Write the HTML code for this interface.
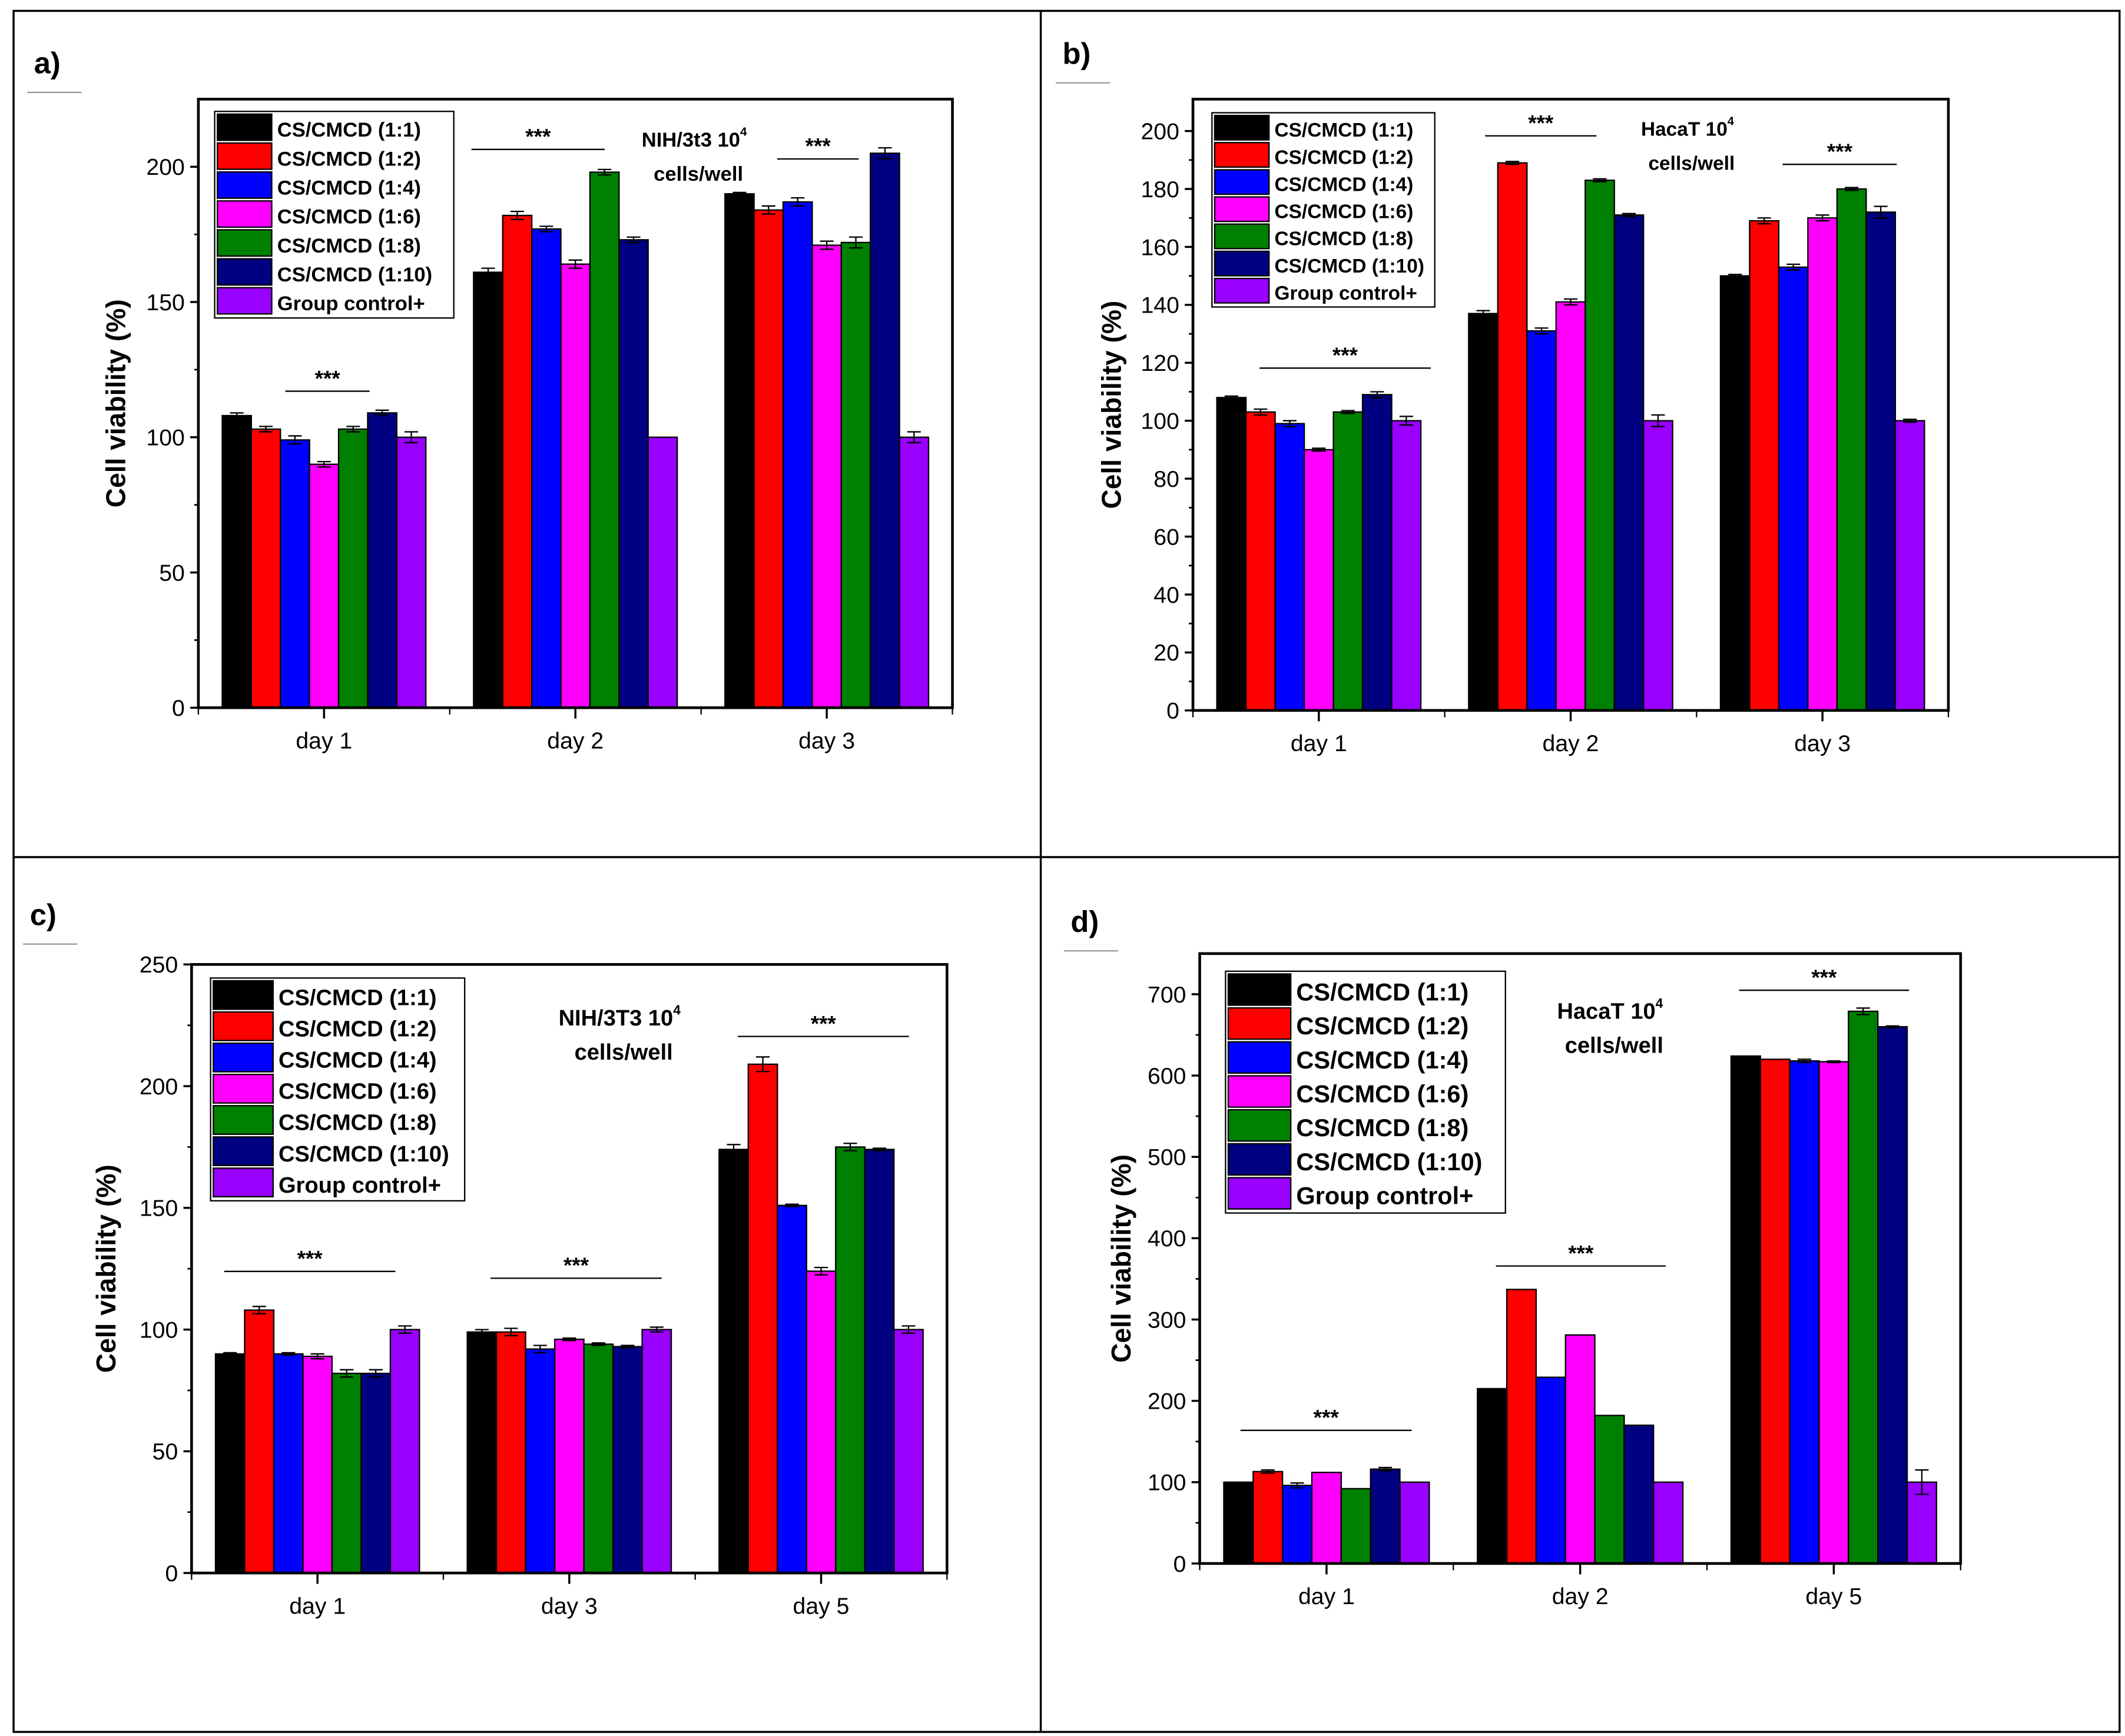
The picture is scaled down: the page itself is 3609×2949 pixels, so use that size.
<!DOCTYPE html>
<html><head><meta charset="utf-8">
<style>html,body{margin:0;padding:0;background:#fff}svg{display:block}</style></head>
<body>
<svg id="fig" xmlns="http://www.w3.org/2000/svg" width="3609" height="2949" viewBox="0 0 1564 1278" preserveAspectRatio="none" font-family="Liberation Sans, sans-serif">
<rect x="0" y="0" width="1564" height="1278" fill="#fff"/>
<rect x="10" y="8" width="1550" height="1267" fill="none" stroke="#000" stroke-width="1.5"/>
<line x1="10" y1="631" x2="1560" y2="631" stroke="#000" stroke-width="1.5"/>
<line x1="766" y1="8" x2="766" y2="1275" stroke="#000" stroke-width="1.5"/>
</svg>
<script>
const seriesNames=["CS/CMCD (1:1)","CS/CMCD (1:2)","CS/CMCD (1:4)","CS/CMCD (1:6)","CS/CMCD (1:8)","CS/CMCD (1:10)","Group control+"];
const colors=["#000000","#ff0000","#0000ff","#ff00ff","#008000","#000080","#9900ff"];
const catsA=["day 1","day 2","day 3"];
const valsA=[[108,103,99,90,103,109,100],[161,182,177,164,198,173,100],[190,184,187,171,172,205,100]];
const errA=[[1,1,1.5,1,1,1,2],[1.5,1.5,1,1.5,1,1,0],[0.5,1.5,1.5,1.5,2,2,2]];
const ticksA=[0,50,100,150,200];
const catsB=["day 1","day 2","day 3"];
const valsB=[[108,103,99,90,103,109,100],[137,189,131,141,183,171,100],[150,169,153,170,180,172,100]];
const errB=[[0.5,1,1,0.5,0.5,1,1.5],[1,0.5,1,1,0.5,0.5,2],[0.5,1,1,1,0.5,2,0.5]];
const ticksB=[0,20,40,60,80,100,120,140,160,180,200];
const catsC=["day 1","day 3","day 5"];
const valsC=[[90,108,90,89,82,82,100],[99,99,92,96,94,93,100],[174,209,151,124,175,174,100]];
const errC=[[0.5,1.5,0.5,1,1.5,1.5,1.5],[1,1.5,1.5,0.5,0.5,0.5,1],[2,3,0.5,1.5,1.5,0.5,1.5]];
const ticksC=[0,50,100,150,200,250];
const catsD=["day 1","day 2","day 5"];
const valsD=[[100,113,96,112,92,116,100],[215,337,229,281,182,170,100],[624,620,618,617,679,660,100]];
const errD=[[0,2,3,0,0,2,0],[0,0,0,0,0,0,0],[0,0,2,1,4,1,15]];
const ticksD=[0,100,200,300,400,500,600,700];

const NS="http://www.w3.org/2000/svg";
const svg=document.getElementById('fig');
function mk(tag,at,parent,txt){const e=document.createElementNS(NS,tag);for(const k in at)e.setAttribute(k,at[k]);if(txt!==undefined)e.textContent=txt;(parent||svg).appendChild(e);return e;}

function panel(p){
  const g=mk('g',{});
  
  
  const yS=v=>p.y0-(v/p.ymax)*(p.y0-p.top);
  const cw=(p.x1-p.x0)/p.cats.length;
  const bw=cw*0.81/7;
  const xC=i=>p.x0+cw*(i+0.5);
  const lab=mk('text',{x:p.lx,y:p.ly,'font-size':22,'font-weight':'bold'},g,p.id+')');
  
  
  mk('line',{x1:p.lx-5,y1:p.ly+14,x2:p.lx+35,y2:p.ly+14,stroke:'#999','stroke-width':1},g);
  p.vals.forEach((grp,ci)=>{
    grp.forEach((v,si)=>{
      const x=xC(ci)-bw*3.5+si*bw;
      const r=mk('rect',{x:x,y:yS(v),width:bw,height:p.y0-yS(v),fill:colors[si],stroke:'#000','stroke-width':1},g);
      
      
      const e=p.err[ci][si];
      if(e>0){
        const cx=x+bw/2;
        mk('line',{x1:cx,y1:yS(v+e),x2:cx,y2:yS(v-e),stroke:'#000','stroke-width':1},g);
        mk('line',{x1:cx-5,y1:yS(v+e),x2:cx+5,y2:yS(v+e),stroke:'#000','stroke-width':1},g);
        mk('line',{x1:cx-5,y1:yS(v-e),x2:cx+5,y2:yS(v-e),stroke:'#000','stroke-width':1},g);
      }
    });
  });
  const fr=mk('rect',{x:p.x0,y:p.top,width:p.x1-p.x0,height:p.y0-p.top,fill:'none',stroke:'#000','stroke-width':2},g);
  
  
  p.ticks.forEach((t,i)=>{
    const y=yS(t);
    mk('line',{x1:p.x0-6,y1:y,x2:p.x0,y2:y,stroke:'#000','stroke-width':1.5},g);
    const tl=mk('text',{x:p.x0-10,y:y+6,'font-size':17,'text-anchor':'end'},g,String(t));
    
    
    if(i<p.ticks.length-1){const ym=yS((t+p.ticks[i+1])/2);mk('line',{x1:p.x0-3,y1:ym,x2:p.x0,y2:ym,stroke:'#000','stroke-width':1.2},g);}
  });
  p.cats.forEach((c,i)=>{
    mk('line',{x1:xC(i),y1:p.y0,x2:xC(i),y2:p.y0+8,stroke:'#000','stroke-width':1.5},g);
    mk('line',{x1:p.x0+cw*i,y1:p.y0,x2:p.x0+cw*i,y2:p.y0+5,stroke:'#000','stroke-width':1},g);
    const xl=mk('text',{x:xC(i),y:p.y0+30,'font-size':17,'text-anchor':'middle'},g,c);
    
    
  });
  mk('line',{x1:p.x1,y1:p.y0,x2:p.x1,y2:p.y0+5,stroke:'#000','stroke-width':1},g);
  const yt=mk('text',{x:0,y:0,'font-size':20,'font-weight':'bold','text-anchor':'middle',transform:'translate('+p.tx+','+((p.top+p.y0)/2)+') rotate(-90)'},g,'Cell viability (%)');
  
  
  const lg=mk('g',{},g);
  
  
  mk('rect',{x:p.lgx,y:p.lgy,width:p.lgw,height:p.rh*7+3,fill:'#fff',stroke:'#000','stroke-width':1},lg);
  seriesNames.forEach((n,i)=>{
    const ey=p.lgy+2+i*p.rh;
    const en=mk('g',{},lg);
    
    
    mk('rect',{x:p.lgx+2,y:ey,width:p.sw,height:p.rh-2,fill:colors[i],stroke:'#000','stroke-width':1},en);
    mk('text',{x:p.lgx+p.sw+6,y:ey+p.rh*0.78,'font-size':p.lfs,'font-weight':'bold'},en,n);
  });
  const an=mk('text',{x:p.ax,y:p.ay,'font-size':p.afs,'font-weight':'bold','text-anchor':'middle'},g);
  
  
  mk('tspan',{},an,p.cell+' 10');
  mk('tspan',{'font-size':p.afs*0.6,dy:-8},an,'4');
  mk('text',{x:p.ax+3,y:p.ay+25,'font-size':p.afs,'font-weight':'bold','text-anchor':'middle'},g,'cells/well');
  p.sig.forEach(s=>{
    const sl=mk('line',{x1:s[0],y1:s[2],x2:s[1],y2:s[2],stroke:'#000','stroke-width':1},g);
    
    
    mk('text',{x:(s[0]+s[1])/2,y:s[2]-4,'font-size':16,'font-weight':'bold','text-anchor':'middle'},g,'***');
  });
}
panel({id:'a',cats:catsA,vals:valsA,err:errA,ticks:ticksA,x0:146,x1:701,top:73,y0:521,ymax:225,tx:92,lx:25,ly:54,
  lgx:158,lgy:82,lgw:176,rh:21.3,sw:40,lfs:15,ax:511,ay:108,afs:15,cell:'NIH/3t3',sig:[[210,272,288],[347,445,110],[572,632,117]]});
panel({id:'b',cats:catsB,vals:valsB,err:errB,ticks:ticksB,x0:878,x1:1434,top:73,y0:523,ymax:211,tx:825,lx:782,ly:47,
  lgx:892,lgy:83,lgw:164,rh:20,sw:40,lfs:14.5,ax:1242,ay:100,afs:14.5,cell:'HacaT',sig:[[927,1053,271],[1093,1175,100],[1312,1396,121]]});
panel({id:'c',cats:catsC,vals:valsC,err:errC,ticks:ticksC,x0:141,x1:697,top:710,y0:1158,ymax:250,tx:85,lx:22,ly:681,
  lgx:155,lgy:720,lgw:187,rh:23,sw:44,lfs:16.5,ax:456,ay:755,afs:16.5,cell:'NIH/3T3',sig:[[165,291,936],[361,487,941],[543,669,763]]});
panel({id:'d',cats:catsD,vals:valsD,err:errD,ticks:ticksD,x0:883,x1:1443,top:702,y0:1151,ymax:750,tx:832,lx:788,ly:686,
  lgx:902,lgy:715,lgw:206,rh:25,sw:46,lfs:18,ax:1185,ay:750,afs:16.5,cell:'HacaT',sig:[[913,1039,1053],[1101,1226,932],[1280,1405,729]]});
</script>
</body></html>
